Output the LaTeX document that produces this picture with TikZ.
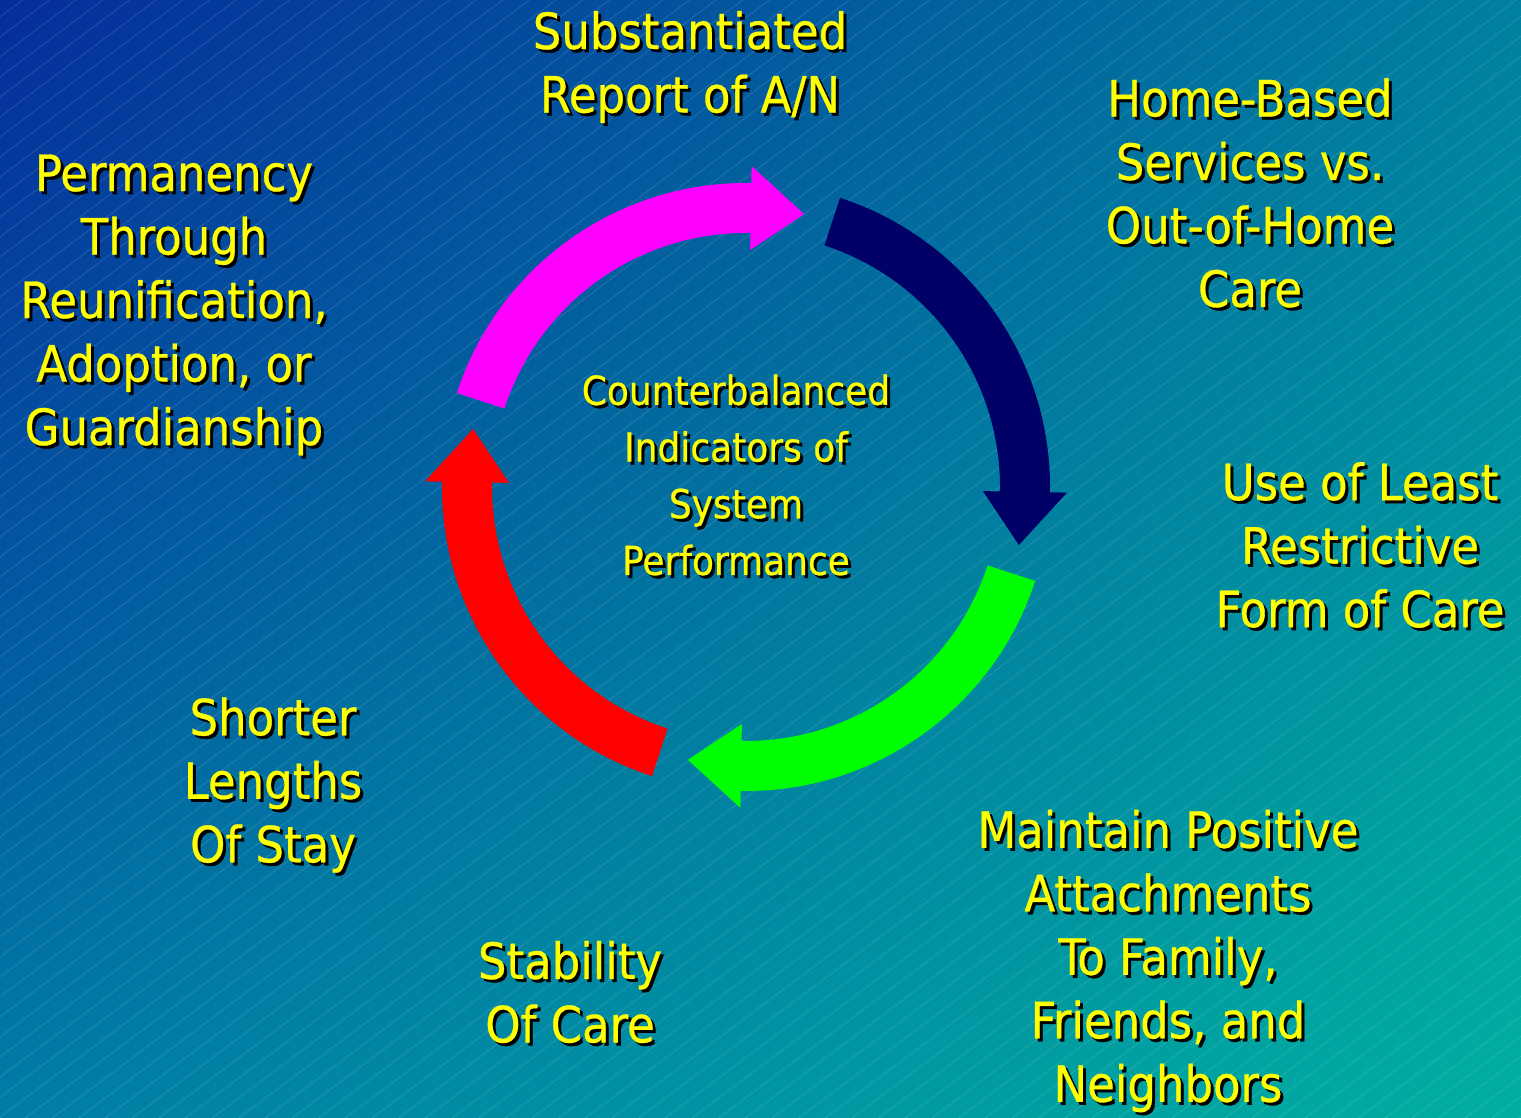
\documentclass[tikz,border=0pt]{standalone}
\usepackage{fontspec}
\setmainfont{DejaVu Sans Condensed}[FakeBold=0.6]
\usetikzlibrary{shadings}
\definecolor{bgUL}{RGB}{5,45,155}
\definecolor{bgUR}{RGB}{0,128,160}
\definecolor{bgLL}{RGB}{0,125,165}
\definecolor{bgLR}{RGB}{0,175,160}
\definecolor{navyarrow}{RGB}{0,0,102}
\definecolor{pinkarrow}{RGB}{255,0,255}
\definecolor{greenarrow}{RGB}{0,255,0}
\definecolor{redarrow}{RGB}{255,0,0}
\definecolor{labelyellow}{RGB}{255,255,0}
\newcommand\shadowlabel[4][lbl]{%
  \node[#1, text=black] at ([shift={(3,-3)}]#3) {#4};
  \node[#1] (#2) at (#3) {#4};}
\begin{document}
\begin{tikzpicture}[x=1pt, y=1pt,
    lbl/.style={text=labelyellow, align=center, inner sep=0pt, font=\fontsize{50}{63.5}\selectfont},
    centrelbl/.style={lbl, font=\fontsize{40}{56.7}\selectfont},
    hatch/.style={white, opacity=0.2, line width=0.5pt}]
    \shade[upper left=bgUL, upper right=bgUR, lower left=bgLL, lower right=bgLR] (0,0) rectangle (1521,1117);
    \useasboundingbox (0,0) rectangle (1521,1117);
    \begin{scope}
        \clip (0,0) rectangle (1521,1117);
        \foreach \c in {-1160,-1140,...,1120}
            \draw[hatch] (0,\c) -- (1521,\c+1140.75);
    \end{scope}

    \begin{scope}[shift={(746,630)}]
        \foreach \angT/\col [evaluate=\angT as \angB using \angT-73, evaluate=\angT as \angP using \angT-84]
                in {162/pinkarrow, 72/navyarrow, -18/greenarrow, 252/redarrow}
            \fill[\col] (\angT:304) arc[start angle=\angT, end angle=\angB, radius=304]
                -- (\angB:321) -- (\angP:279) -- (\angB:237) -- (\angB:254)
                arc[start angle=\angB, end angle=\angT, radius=254] -- cycle;
    \end{scope}

    \shadowlabel{report}{690,1050}{Substantiated\\Report of A/N}
    \shadowlabel{home}{1250,924}{Home-Based\\Services vs.\\Out-of-Home\\Care}
    \shadowlabel{least}{1360,572}{Use of Least\\Restrictive\\Form of Care}
    \shadowlabel{attach}{1168,156}{Maintain Positive\\Attachments\\To Family,\\Friends, and\\Neighbors}
    \shadowlabel{stable}{570,125}{Stability\\Of Care}
    \shadowlabel{shorter}{273,332}{Shorter\\Lengths\\Of Stay}
    \shadowlabel{perm}{174,812}{Permanency\\Through\\Reunification,\\Adoption, or\\Guardianship}
    \shadowlabel[centrelbl]{centre}{736,642}{Counterbalanced\\Indicators of\\System\\Performance}
\end{tikzpicture}
\end{document}
